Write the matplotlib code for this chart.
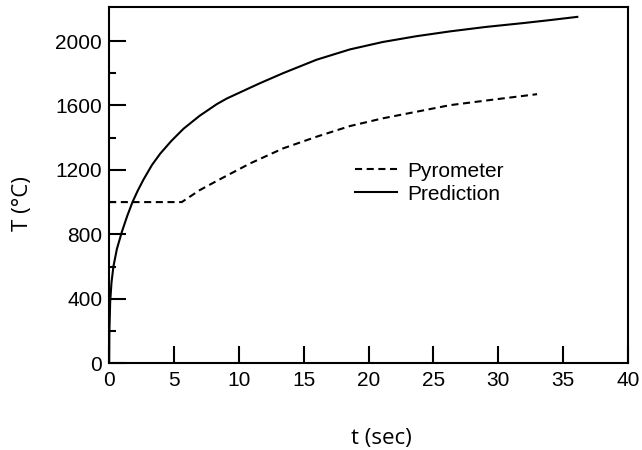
import matplotlib.pyplot as plt

# Prediction curve
t_pred = [0, 0.02, 0.08, 0.18, 0.33, 0.6, 1.0, 1.4, 1.8, 2.2, 2.65, 3.3, 3.93, 4.8,
          5.73, 6.5, 7.0, 8.3, 9.07, 10.87, 11.6, 13.4, 16.0, 18.57, 21.1, 23.7, 26.3,
          29.0, 32.0, 34.0, 36.1]
T_pred = [0, 200, 380, 500, 600, 710, 820, 915, 1000, 1070, 1140, 1230, 1300, 1380,
          1455, 1505, 1537, 1608, 1643, 1710, 1737, 1800, 1884, 1948, 1994, 2030, 2060,
          2087, 2112, 2130, 2150]

# Pyrometer reading
t_pyro = [0, 5.6, 7.0, 8.5, 10.87, 13.4, 16.0, 18.57, 21.1, 23.7, 26.3, 29.5, 33.0]
T_pyro = [1000, 1000, 1075, 1140, 1240, 1333, 1406, 1472, 1520, 1561, 1602, 1635, 1670]

plt.rcParams['font.family'] = ['Liberation Sans', 'DejaVu Sans']

fig = plt.figure(figsize=(6.42, 4.5), dpi=100)
ax = fig.add_axes([0.170, 0.193, 0.808, 0.791])

ax.plot(t_pyro, T_pyro, color='black', lw=1.5, dashes=(3.4, 2.2), label='Pyrometer')
ax.plot(t_pred, T_pred, color='black', lw=1.5, label='Prediction')

ax.set_xlim(0, 40)
ax.set_ylim(0, 2210)
ax.set_xticks(range(0, 41, 5))
ax.set_yticks(range(0, 2001, 400))
ax.set_yticks(range(200, 2001, 400), minor=True)
ax.tick_params(which='major', direction='in', length=12, width=1.5, labelsize=15)
ax.tick_params(which='minor', direction='in', length=5, width=1.5)
ax.tick_params(axis='x', pad=6)
ax.tick_params(axis='y', pad=5)
for s in ax.spines.values():
    s.set_linewidth(1.5)

ax.set_xlabel('t (sec)', fontsize=16, family=['Open Sans', 'DejaVu Sans'])
ax.set_ylabel('T (°C)', fontsize=16, family=['Open Sans', 'DejaVu Sans'])
ax.xaxis.set_label_coords(0.524, -0.183)
ax.yaxis.set_label_coords(-0.146, 0.447)

ax.legend(loc='center left', bbox_to_anchor=(0.474, 0.507), frameon=False, fontsize=15,
          handlelength=2.0, handletextpad=0.5, labelspacing=0.2,
          borderpad=0, borderaxespad=0)

fig.savefig('out.png', dpi=100)
